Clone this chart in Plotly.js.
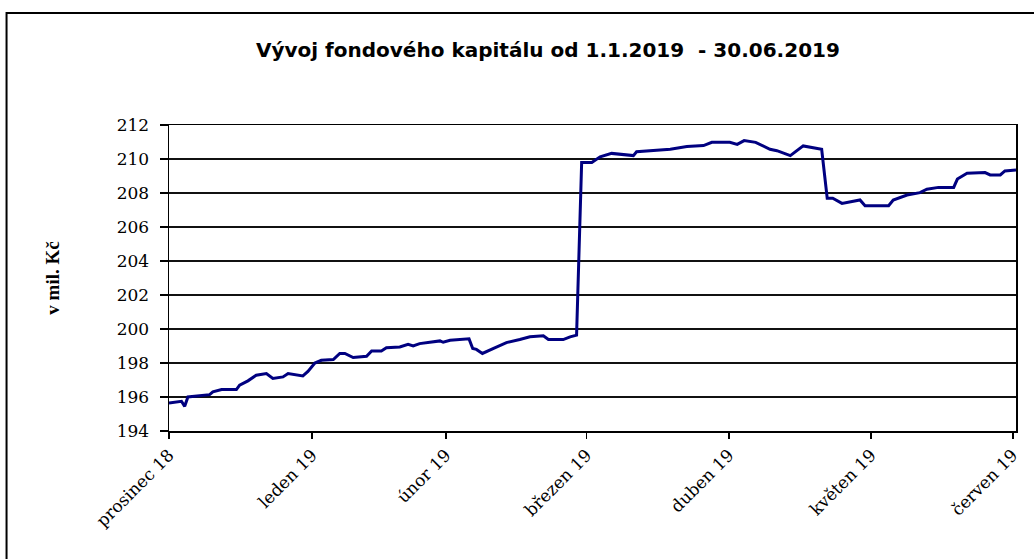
<!DOCTYPE html>
<html>
<head>
<meta charset="utf-8">
<script src="https://cdn.plot.ly/plotly-3.0.1.min.js"></script>
<style>
html,body{margin:0;padding:0;background:#fff;}
#chart{width:1034px;height:559px;}
</style>
</head>
<body>
<div id="chart"></div>
<script>
// x: position along the time axis (days from start of the axis), y: fund capital in mil. Kč
const den = [0, 1.95, 2.7, 3.4, 4.1, 8.8, 9.5, 11.4, 14.6, 15.3, 17.1, 18.9, 21.1, 22.5, 24.7, 25.8, 28.3, 29.0, 30.1, 31.6, 33.0, 35.6, 37.0, 38.1, 39.9, 42.8, 43.9, 46.0, 47.1, 50.0, 51.8, 52.9, 54.3, 58.7, 59.4, 60.9, 65.0, 65.8, 66.6, 67.9, 70.2, 73.1, 76.0, 78.2, 81.1, 82.2, 85.4, 86.9, 88.3, 89.4, 91.6, 93.4, 95.9, 97.7, 100.6, 101.3, 104.2, 108.6, 112.2, 115.8, 117.6, 121.5, 123.1, 124.6, 127.1, 130.2, 131.7, 134.6, 137.4, 141.4, 142.6, 143.8, 145.8, 149.7, 150.8, 155.9, 156.9, 159.9, 162.7, 164.2, 166.7, 170.0, 170.8, 172.9, 176.8, 177.9, 180.1, 181.1, 183.5];
const kapital = [195.65, 195.7, 195.75, 195.45, 196.0, 196.14, 196.3, 196.44, 196.44, 196.7, 196.95, 197.28, 197.38, 197.09, 197.18, 197.38, 197.28, 197.24, 197.5, 198.0, 198.16, 198.2, 198.56, 198.56, 198.32, 198.4, 198.71, 198.71, 198.9, 198.94, 199.1, 199.0, 199.14, 199.3, 199.22, 199.34, 199.42, 198.85, 198.8, 198.56, 198.85, 199.2, 199.38, 199.54, 199.6, 199.38, 199.38, 199.54, 199.64, 209.8, 209.8, 210.13, 210.33, 210.29, 210.2, 210.43, 210.47, 210.57, 210.73, 210.79, 210.98, 210.98, 210.86, 211.08, 210.98, 210.57, 210.49, 210.2, 210.77, 210.57, 207.69, 207.69, 207.39, 207.59, 207.25, 207.25, 207.59, 207.88, 208.02, 208.22, 208.33, 208.33, 208.82, 209.16, 209.2, 209.06, 209.06, 209.3, 209.35];

const tickPos = [0, 31, 60, 90.5, 121.3, 152.1, 182.8];
const tickLabels = ["prosinec 18", "leden 19", "únor 19", "březen 19", "duben 19", "květen 19", "červen 19"];
const yTicks = [194, 196, 198, 200, 202, 204, 206, 208, 210, 212];

const serif = 'DejaVu Serif';

const trace = {
  x: den,
  y: kapital,
  type: 'scatter',
  mode: 'lines',
  line: {color: '#000080', width: 3},
  hoverinfo: 'y'
};

const layout = {
  width: 1034,
  height: 559,
  margin: {l: 169, r: 18, t: 125, b: 128, pad: 0},
  paper_bgcolor: '#ffffff',
  plot_bgcolor: '#ffffff',
  showlegend: false,
  title: {
    text: 'Vývoj fondového kapitálu od 1.1.2019  - 30.06.2019',
    font: {family: 'DejaVu Sans', size: 20, color: '#000', weight: 'bold'},
    xref: 'paper', x: 0.4474, xanchor: 'center',
    yref: 'container', y: 1 - 50/559, yanchor: 'middle'
  },
  xaxis: {
    type: 'linear',
    range: [0, 183.5],
    tickmode: 'array',
    tickvals: tickPos,
    ticktext: tickLabels,
    tickangle: -45,
    tickfont: {family: serif, size: 17, color: '#000'},
    ticks: 'outside', ticklen: 6, tickwidth: 1.5, tickcolor: '#000',
    showgrid: false, zeroline: false,
    showline: true, linecolor: '#000', linewidth: 1.5, mirror: true,
    fixedrange: true
  },
  yaxis: {
    range: [194, 212],
    tickmode: 'array',
    tickvals: yTicks,
    tickfont: {family: serif, size: 17, color: '#000'},
    ticks: 'outside', ticklen: 8, tickwidth: 1.5, tickcolor: '#000',
    ticklabelstandoff: 7,
    showgrid: true, gridcolor: '#111', gridwidth: 1.5,
    zeroline: false,
    showline: true, linecolor: '#000', linewidth: 1.5, mirror: true,
    title: {text: 'v mil. Kč', font: {family: 'Liberation Serif', size: 19, color: '#000', weight: 'bold'}, standoff: 52},
    fixedrange: true
  },
  shapes: [{
    type: 'rect', xref: 'paper', yref: 'paper',
    x0: -0.1918, x1: 1.2, y0: -1, y1: (430.7 - 13) / 305.7,
    line: {color: '#000', width: 2}, fillcolor: 'rgba(0,0,0,0)', layer: 'below'
  }]
};

Plotly.newPlot('chart', [trace], layout, {displayModeBar: false, staticPlot: true});
</script>
</body>
</html>
